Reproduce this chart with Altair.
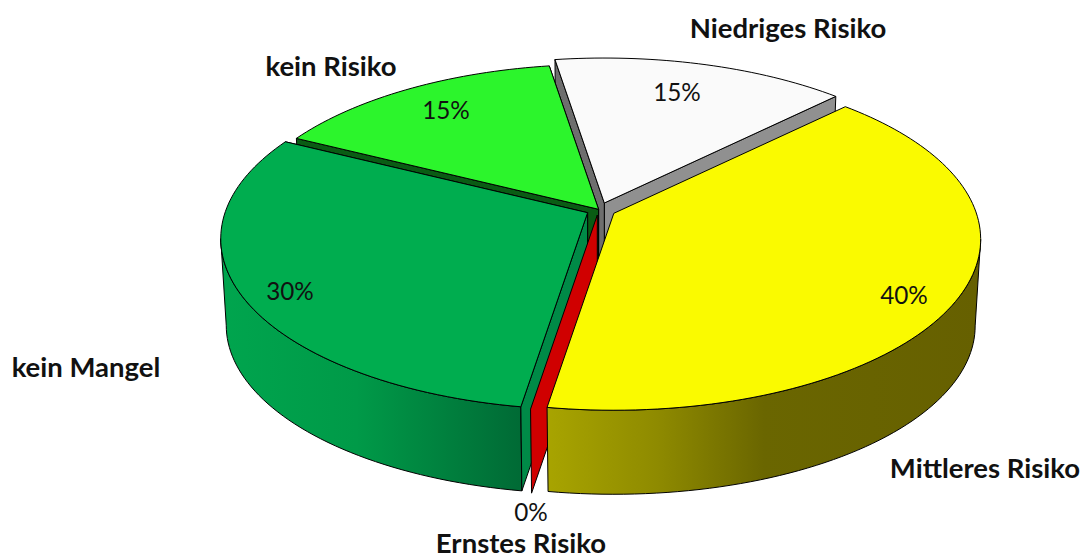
import math
import altair as alt
import pandas as pd

# ---- chart values ----
names = ["Niedriges Risiko", "Mittleres Risiko", "Ernstes Risiko", "kein Mangel", "kein Risiko"]
percents = [15, 40, 0, 30, 15]
pct_labels = ["15%", "40%", "0%", "30%", "15%"]

# ---- styling per slice ----
top_colors = ["#fafafa", "#fafa00", "#d00000", "#00ad4f", "#2cf52c"]
start_cut_colors = ["#6e6e6e", None, "#d00000", "#008a47", "#0a5c14"]
end_cut_colors = ["#909090", None, "#d00000", "#0a6a2a", "#0a5c14"]
explode_dx = [4.0, 13.5, -3.0, -12.7, -1.7]
explode_dy = [-4.0, 6.3, 8.0, 5.7, 2.3]

# ---- layout of the 3D pie ----
CX, CY = 600.3, 207.0
RX, RY, PERSP = 362.6, 167.0, 0.152
DEPTH, BOTTOM_SCALE = 87.0, 0.985
START_DEG = -9.0

name_x = [788, 985, 521, 86, 331]
name_y = [30, 470, 545, 369, 68]
pct_x = [677, 904, 531, 290, 446]
pct_y = [94, 297, 514, 293, 112]

X = alt.Scale(domain=[8, 1081])
Y = alt.Scale(domain=[558, 8])

# where the pie's outline turns from the front wall to the back
SIDE_DEG = math.degrees(math.acos(-PERSP))


def project(deg, radius, dx, dy, bottom=False):
    a = math.radians(deg)
    u, v = radius * math.sin(a), radius * math.cos(a)
    w = 1 + PERSP * v
    x, y = RX * u / w, -RY * v / w
    if bottom:
        x, y = x * BOTTOM_SCALE, DEPTH + y * BOTTOM_SCALE
    return CX + x + dx, CY + y + dy


def arc(a0, a1, dx, dy, bottom=False):
    n = max(2, int(abs(a1 - a0) / 1.5) + 1)
    return [project(a0 + (a1 - a0) * k / n, 1, dx, dy, bottom) for k in range(n + 1)]


def poly(points, fill, stroke="#000000", width=1.0):
    pts = list(points) + [points[0]]
    df = pd.DataFrame({"x": [p[0] for p in pts], "y": [p[1] for p in pts], "i": range(len(pts))})
    return alt.Chart(df).mark_line(fill=fill, stroke=stroke, strokeWidth=width, strokeJoin="round").encode(
        x=alt.X("x:Q", scale=X, axis=None),
        y=alt.Y("y:Q", scale=Y, axis=None),
        order=alt.Order("i:Q"),
    )


def grad(stops):
    return alt.Gradient(
        gradient="linear", x1=0, x2=1, y1=0, y2=0,
        stops=[alt.GradientStop(offset=o, color=c) for o, c in stops],
    )


# slice angle ranges, from the percentages
angles = []
a = START_DEG
for p in percents:
    angles.append((a, a + p * 3.6))
    a += p * 3.6

# fills of the outer walls and the front part of each slice's rim
wall_fills = {
    1: grad([(0, "#a8a400"), (0.25, "#8f8b00"), (0.5, "#6a6600"), (1, "#666000")]),
    3: grad([(0, "#00a54e"), (0.45, "#009a48"), (1, "#006a35")]),
}

layers = []
for i in [0, 4, 3, 2, 1]:
    a0, a1 = angles[i]
    dx, dy = explode_dx[i], explode_dy[i]
    tip = project(0, 0, dx, dy)
    tipb = project(0, 0, dx, dy, True)
    if i == 2:
        layers.append(poly([tip, project(a0, 1, dx, dy), project(a0, 1, dx, dy, True), tipb], top_colors[i]))
        continue
    if i in wall_fills:
        w0 = max(a0, SIDE_DEG)
        w1 = min(a1, 360 - SIDE_DEG)
        layers.append(poly(arc(w0, w1, dx, dy) + arc(w1, w0, dx, dy, True), wall_fills[i]))
    # radial cut faces: the far one first
    if end_cut_colors[i]:
        layers.append(poly([tip, project(a1, 1, dx, dy), project(a1, 1, dx, dy, True), tipb], end_cut_colors[i]))
    if start_cut_colors[i]:
        layers.append(poly([tip, project(a0, 1, dx, dy), project(a0, 1, dx, dy, True), tipb], start_cut_colors[i]))
    # top face
    layers.append(poly([tip] + arc(a0, a1, dx, dy), top_colors[i]))

names_df = pd.DataFrame({"t": names, "x": name_x, "y": name_y})
pct_df = pd.DataFrame({"t": pct_labels, "x": pct_x, "y": pct_y})
enc = dict(
    x=alt.X("x:Q", scale=X, axis=None),
    y=alt.Y("y:Q", scale=Y, axis=None),
    text="t:N",
)
layers.append(alt.Chart(names_df).mark_text(font="Lato", fontSize=27.5, fontWeight="bold", color="#111111").encode(**enc))
layers.append(alt.Chart(pct_df).mark_text(font="Lato", fontSize=24.3, color="#111111").encode(**enc))

chart = alt.layer(*layers).properties(
    width=1073, height=550, padding=0, autosize=alt.AutoSizeParams(type="none")
).configure_view(stroke=None)

chart.save("out.html", embed_options={"renderer": "svg", "actions": False})
